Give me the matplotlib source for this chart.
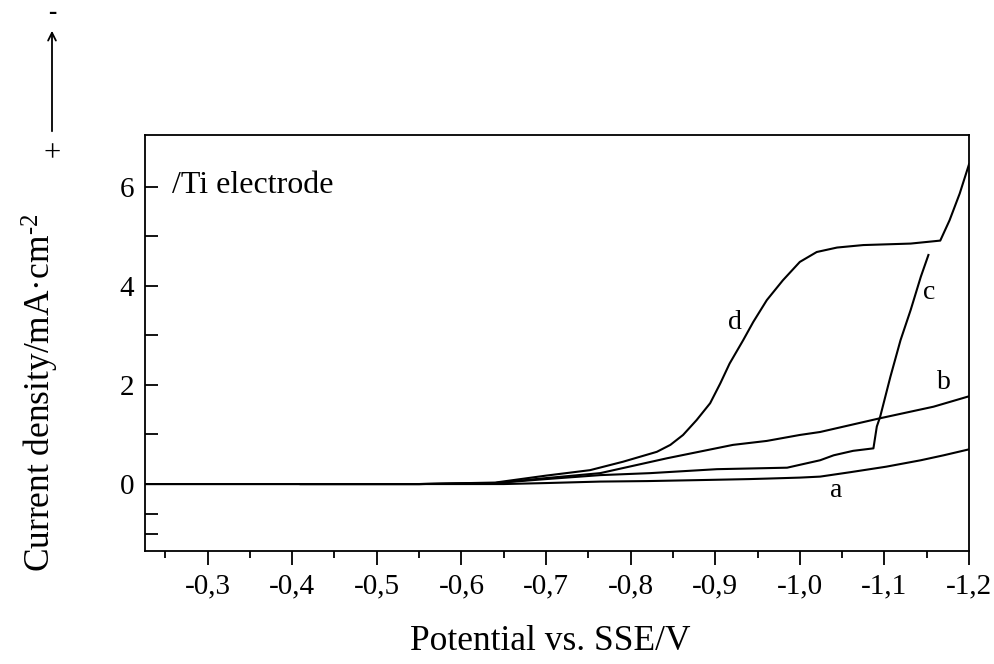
import matplotlib
matplotlib.use("Agg")
import matplotlib.pyplot as plt
from matplotlib.ticker import FixedLocator

plt.rcParams['font.family'] = ['Liberation Serif', 'DejaVu Serif']
plt.rcParams['mathtext.fontset'] = 'custom'
plt.rcParams['mathtext.rm'] = 'Liberation Serif'
plt.rcParams['mathtext.it'] = 'Liberation Serif:italic'

# ---- data (potential V vs SSE, current density mA/cm2) ----
a_V = [-0.227, -0.40, -0.55, -0.65, -0.70, -0.764, -0.82, -0.882, -0.94, -0.961,
       -1.00, -1.024, -1.060, -1.102, -1.143, -1.170, -1.20]
a_j = [0.0, 0.0, 0.0, 0.0, 0.02, 0.05, 0.06, 0.08, 0.10, 0.11,
       0.13, 0.15, 0.24, 0.35, 0.48, 0.58, 0.70]

b_V = [-0.227, -0.40, -0.55, -0.64, -0.70, -0.764, -0.843, -0.921, -0.961, -1.00,
       -1.024, -1.093, -1.158, -1.20]
b_j = [0.0, 0.0, 0.0, 0.02, 0.12, 0.22, 0.52, 0.79, 0.87, 0.99,
       1.05, 1.32, 1.56, 1.77]

c_V = [-0.41, -0.55, -0.64, -0.70, -0.764, -0.823, -0.902, -0.985, -1.024, -1.040,
       -1.063, -1.087, -1.091, -1.095, -1.107, -1.119, -1.131, -1.143, -1.152]
c_j = [0.0, 0.0, 0.02, 0.10, 0.18, 0.22, 0.30, 0.33, 0.48, 0.58,
       0.67, 0.72, 1.16, 1.36, 2.16, 2.90, 3.51, 4.18, 4.62]

d_V = [-0.41, -0.55, -0.64, -0.70, -0.752, -0.791, -0.831, -0.847, -0.862, -0.878,
       -0.894, -0.906, -0.917, -0.933, -0.945, -0.961, -0.980, -1.000, -1.020, -1.044,
       -1.075, -1.131, -1.166, -1.177, -1.189, -1.20]
d_j = [0.0, 0.0, 0.03, 0.17, 0.28, 0.45, 0.65, 0.79, 0.99, 1.29,
       1.63, 2.03, 2.43, 2.90, 3.27, 3.71, 4.11, 4.48, 4.68, 4.77,
       4.82, 4.85, 4.91, 5.32, 5.86, 6.45]

x_ticks = [-0.3, -0.4, -0.5, -0.6, -0.7, -0.8, -0.9, -1.0, -1.1, -1.2]
x_tick_labels = ['-0,3', '-0,4', '-0,5', '-0,6', '-0,7', '-0,8', '-0,9', '-1,0', '-1,1', '-1,2']
x_minor = [-0.25, -0.35, -0.45, -0.55, -0.65, -0.75, -0.85, -0.95, -1.05, -1.15]
y_ticks = [-1.0, -0.6, 0, 1, 2, 3, 4, 5, 6]
y_tick_labels = ['', '', '0', '', '2', '', '4', '', '6']

curve_labels = ['a', 'b', 'c', 'd']
label_pos = [(-1.0428, -0.12), (-1.1704, 2.04), (-1.1527, 3.87), (-0.9234, 3.25)]

fig = plt.figure(figsize=(9.95, 6.64), dpi=100)
ax = fig.add_axes([0.1462, 0.1702, 0.9739 - 0.1462, 0.7967 - 0.1702])

for V, j in [(a_V, a_j), (b_V, b_j), (c_V, c_j), (d_V, d_j)]:
    ax.plot(V, j, color='black', lw=1.5, solid_joinstyle='round')

ax.set_xlim(-0.2266, -1.2)
ax.set_ylim(-1.35, 7.04)

ax.xaxis.set_major_locator(FixedLocator(x_ticks))
ax.set_xticklabels(x_tick_labels)
ax.xaxis.set_minor_locator(FixedLocator(x_minor))
ax.set_yticks(y_ticks)
ax.set_yticklabels(y_tick_labels)

ax.tick_params(axis='x', which='major', direction='out', length=10, width=1.3,
               labelsize=21, pad=6, top=False)
ax.tick_params(axis='x', which='minor', direction='out', length=5, width=1.3, top=False)
ax.tick_params(axis='y', which='major', direction='in', length=9, width=1.3,
               labelsize=21, pad=8, right=False)
for s in ax.spines.values():
    s.set_linewidth(1.3)

for lab, (x, y) in zip(curve_labels, label_pos):
    ax.text(x, y, lab, fontsize=20, ha='center', va='center')

ax.text(-0.2576, 5.87, '/Ti electrode', fontsize=23, ha='left', va='baseline')

fig.text(0.553, 1 - 650 / 664, 'Potential vs. SSE/V', fontsize=25.5,
         ha='center', va='baseline')
fig.text(40 / 995, 1 - 393 / 664, r'Current density/mA·cm$^{\text{-}2}$', fontsize=25.5,
         rotation=90, ha='center', va='center')

# polarity arrow
fig.patches.append(matplotlib.patches.FancyArrowPatch(
    (52 / 995, 1 - 134 / 664), (52 / 995, 1 - 28 / 664),
    transform=fig.transFigure, arrowstyle='->', mutation_scale=14,
    color='black', lw=1.3))
fig.text(52 / 995, 1 - 154 / 664, '+', fontsize=22, ha='center', va='center')
fig.text(52 / 995, 1 - 12 / 664, '-', fontsize=18, fontweight='bold',
         ha='center', va='center')

fig.savefig('out.png', dpi=100)
